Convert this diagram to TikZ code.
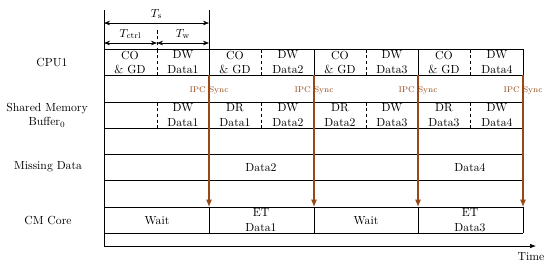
\documentclass[tikz,border=0pt]{standalone}
\usepackage{amsmath,amssymb}
\usepackage{tikz}
\usetikzlibrary{positioning,arrows.meta}
\definecolor{syncc}{RGB}{150,72,22}

\begin{document}
\begin{tikzpicture}[x=0.03cm,y=-0.03cm,
  rl/.style={align=center,font=\normalsize,inner sep=1pt},
  cl/.style={align=center,font=\normalsize,inner sep=0pt,text depth=0pt},
  gl/.style={line width=0.5pt},
  dl/.style={dashed,dash pattern=on 3pt off 2pt,line width=0.5pt},
  sy/.style={-{Latex[length=2.2mm,width=1.8mm]},line width=0.9pt,draw=syncc},
  st/.style={font=\scriptsize,text=syncc,inner sep=1pt},
  dm/.style={{Stealth[length=1.8mm]}-{Stealth[length=1.8mm]},line width=0.5pt}]

\useasboundingbox (0,0) rectangle (550,267);

% --- grid corners ---
\coordinate (tl) at (104,49);
\coordinate (tr) at (523,49);

% --- top: period marks ---
\coordinate (s0) at (104,10);
\coordinate (s1) at (209,10);
\coordinate (h0) at (157,30);
\coordinate (h1) at (157,49);
\draw[gl] (s0) -- (tl);
\draw[gl] (s1) -- (209,49);
\draw[dl] (h0) -- (h1);
\coordinate (a0) at (104,23);
\coordinate (a1) at (209,23);
\coordinate (b0) at (104,43);
\coordinate (b1) at (157,43);
\coordinate (b2) at (209,43);
\draw[dm] (a0) -- node[above=0pt,font=\normalsize]{$T_{\mathrm{s}}$} (a1);
\draw[dm] (b0) -- node[above=0pt,font=\normalsize]{$T_{\mathrm{ctrl}}$} (b1);
\draw[dm] (b1) -- node[above=0pt,font=\normalsize]{$T_{\mathrm{w}}$} (b2);

% --- rows ---
\foreach \yy in {49,75,102,128,154,180,207,233}
  \draw[gl] (104,\yy) -- (523,\yy);
\foreach \xx in {209,314,418,523} {
  \draw[gl] (\xx,49) -- (\xx,75);
  \draw[gl] (\xx,207) -- (\xx,233);
}
\foreach \xx in {157,261,366,470} {
  \draw[dl] (\xx,49) -- (\xx,75);
  \draw[dl] (\xx,102) -- (\xx,128);
}

% --- row labels ---
\node[rl] (rcpu) at (52,62)  {CPU1};
\node[rl] (rshm) at (47,115) {Shared Memory\\Buffer$_0$};
\node[rl] (rmis) at (48,167) {Missing Data};
\node[rl] (rcm)  at (48,220) {CM Core};

% --- CPU1 ---
\node[cl] (c1) at (130,62) {CO\\\& GD};
\node[cl] (c2) at (183,62) {DW\\Data1};
\node[cl] (c3) at (235,62) {CO\\\& GD};
\node[cl] (c4) at (288,62) {DW\\Data2};
\node[cl] (c5) at (340,62) {CO\\\& GD};
\node[cl] (c6) at (392,62) {DW\\Data3};
\node[cl] (c7) at (444,62) {CO\\\& GD};
\node[cl] (c8) at (497,62) {DW\\Data4};

% --- shared memory ---
\node[cl] (m2) at (183,115) {DW\\Data1};
\node[cl] (m3) at (235,115) {DR\\Data1};
\node[cl] (m4) at (288,115) {DW\\Data2};
\node[cl] (m5) at (340,115) {DR\\Data2};
\node[cl] (m6) at (392,115) {DW\\Data3};
\node[cl] (m7) at (444,115) {DR\\Data3};
\node[cl] (m8) at (497,115) {DW\\Data4};

% --- missing data ---
\node[cl] (d2) at (261,167) {Data2};
\node[cl] (d4) at (470,167) {Data4};

% --- CM core ---
\node[cl] (w1) at (157,220) {Wait};
\node[cl] (e1) at (261,220) {ET\\Data1};
\node[cl] (w2) at (366,220) {Wait};
\node[cl] (e3) at (470,220) {ET\\Data3};

% --- IPC sync ---
\foreach \xx/\nm in {209/p1,314/p2,418/p3,523/p4} {
  \coordinate (\nm a) at (\xx,75);
  \coordinate (\nm b) at (\xx,207);
  \draw[sy] (\nm a) -- (\nm b);
  \node[st] (\nm t) at (\xx,90) {IPC Sync};
}

% --- time axis ---
\coordinate (t0) at (104,246);
\coordinate (t1) at (536,246);
\draw[gl] (tl) -- (t0);
\draw[-{Latex[length=1.8mm]},gl] (t0) -- (t1);
\node[font=\normalsize] (tm) at (531,257) {Time};
\end{tikzpicture}
\end{document}
